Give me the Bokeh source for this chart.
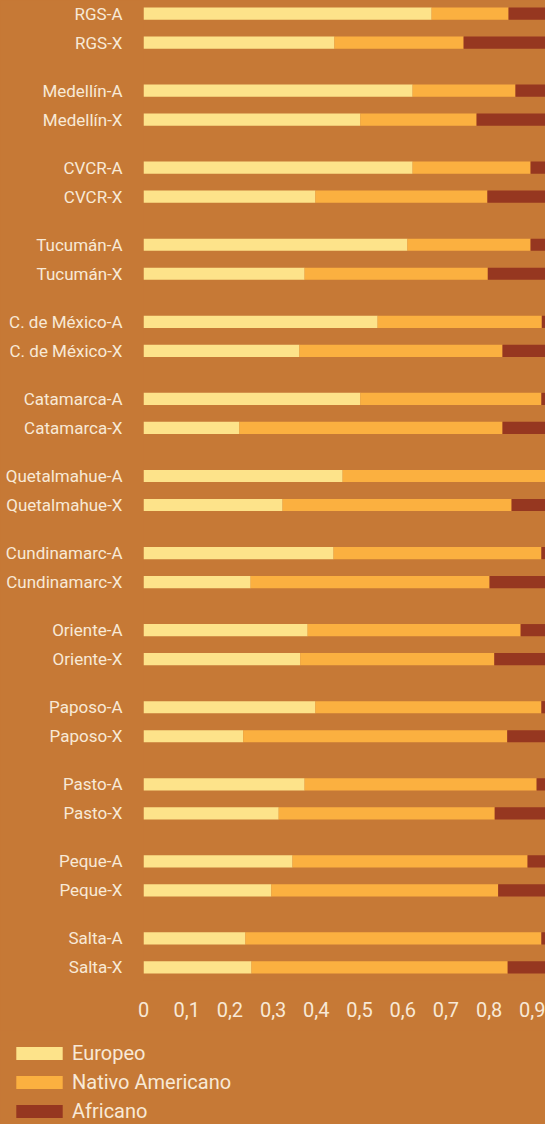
from bokeh.plotting import figure
from bokeh.models import (FactorRange, Range1d, ColumnDataSource, FixedTicker,
                          CustomJSTickFormatter)
from bokeh.embed import file_html
from bokeh.resources import INLINE

# ---- data ----
groups = ["RGS", "Medellín", "CVCR", "Tucumán", "C. de México", "Catamarca",
          "Quetalmahue", "Cundinamarc", "Oriente", "Paposo", "Pasto", "Peque", "Salta"]
suffixes = ["A", "X"]
series = ["Europeo", "Nativo Americano", "Africano"]

europeo = [0.667, 0.442, 0.623, 0.502, 0.623, 0.398, 0.611, 0.373, 0.542, 0.361,
           0.502, 0.222, 0.461, 0.322, 0.440, 0.248, 0.380, 0.363, 0.398, 0.231,
           0.373, 0.313, 0.345, 0.296, 0.236, 0.250]
nativo = [0.178, 0.299, 0.238, 0.269, 0.273, 0.398, 0.285, 0.424, 0.380, 0.470,
          0.419, 0.609, 0.470, 0.530, 0.481, 0.553, 0.493, 0.449, 0.523, 0.611,
          0.537, 0.500, 0.544, 0.525, 0.685, 0.593]
africano = [0.155, 0.259, 0.139, 0.229, 0.104, 0.204, 0.104, 0.203, 0.078, 0.169,
            0.079, 0.169, 0.069, 0.148, 0.079, 0.199, 0.127, 0.188, 0.079, 0.158,
            0.090, 0.187, 0.111, 0.179, 0.079, 0.157]
x_ticks = [0, 0.1, 0.2, 0.3, 0.4, 0.5, 0.6, 0.7, 0.8, 0.9, 1.0]

# ---- style ----
BG = "#C67936"
COLORS = ["#FDE38A", "#FBB040", "#963720"]
TXT = "#F8E9D6"
FONT = "Roboto"
CSS = {"background-color": BG}

factors = [(g, f"{g}-{s}") for g in groups for s in suffixes]
src = ColumnDataSource(dict(y=factors, eu=europeo, na=nativo, af=africano))

yr = FactorRange(*reversed(factors), group_padding=0.658, factor_padding=0.0,
                 range_padding=-0.05, range_padding_units="absolute")

p = figure(width=545, height=1030, y_range=yr, x_range=Range1d(0, 402 / 432),
           output_backend="svg", toolbar_location=None,
           min_border_left=143, min_border_right=0, min_border_top=0,
           min_border_bottom=50, background_fill_color=BG,
           border_fill_color=BG, outline_line_color=None, styles=CSS)

p.hbar_stack(["eu", "na", "af"], y="y", height=0.42, color=COLORS,
             line_color=None, source=src)

p.grid.visible = False

xa = p.xaxis[0]
xa.ticker = FixedTicker(ticks=x_ticks)
xa.formatter = CustomJSTickFormatter(code="""
const s = (Math.round(tick * 10) / 10).toString();
return s.replace('.', ',');
""")
xa.axis_line_color = None
xa.major_tick_line_color = None
xa.minor_tick_line_color = None
xa.major_label_standoff = 15
xa.major_label_text_font = FONT
xa.major_label_text_font_size = "20px"
xa.major_label_text_color = TXT

ya = p.yaxis[0]
ya.axis_line_color = None
ya.major_tick_line_color = None
ya.minor_tick_line_color = None
ya.major_label_standoff = 15
ya.major_label_text_font = FONT
ya.major_label_text_font_size = "17px"
ya.major_label_text_color = TXT
ya.group_text_font_size = "1px"
ya.group_text_color = None
ya.separator_line_color = None

# ---- legend strip below the chart (its renderers share the data, drawn with zero height) ----
lf = figure(width=545, height=94, x_range=Range1d(0, 1),
            y_range=FactorRange(*factors), x_axis_type=None, y_axis_type=None,
            output_backend="svg", toolbar_location=None, min_border=0,
            background_fill_color=BG, border_fill_color=BG,
            outline_line_color=None, styles=CSS)
lf.grid.visible = False
lf.hbar_stack(["eu", "na", "af"], y="y", height=0, color=COLORS,
              line_color=None, source=src, legend_label=series)

lg = lf.legend[0]
lg.location = "top_left"
lg.orientation = "vertical"
lg.margin = 10
lg.padding = 0
lg.spacing = 3
lg.border_line_color = None
lg.background_fill_alpha = 0
lg.glyph_width = 58
lg.glyph_height = 16
lg.label_height = 26
lg.label_standoff = 4
lg.label_text_font = FONT
lg.label_text_font_size = "20px"
lg.label_text_color = TXT

open("out.html", "w").write(file_html([p, lf], INLINE))
